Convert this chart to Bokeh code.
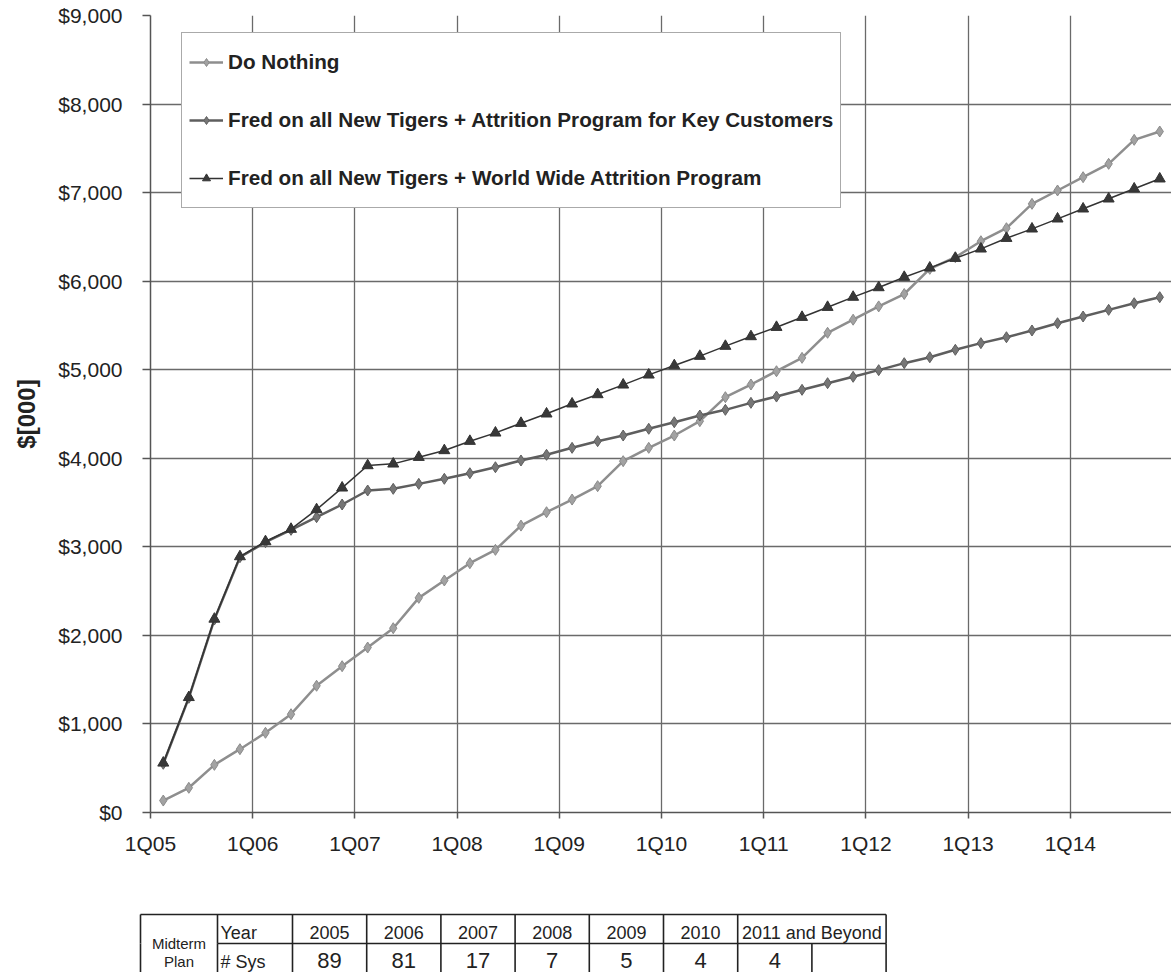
import numpy as np
from bokeh.plotting import figure
from bokeh.models import (Range1d, FixedTicker, NumeralTickFormatter, Legend,
                          LegendItem, ColumnDataSource)
from bokeh.embed import file_html
from bokeh.resources import INLINE
from bokeh.core.properties import value

# ---------------- data ----------------
quarters = [f"{q}Q{y:02d}" for y in range(5, 15) for q in range(1, 5)]

do_nothing = [135, 279, 538, 715, 900, 1110, 1431, 1652, 1863, 2081,
              2424, 2620, 2815, 2966, 3240, 3391, 3534, 3685, 3967, 4118,
              4257, 4419, 4690, 4833, 4983, 5134, 5417, 5565, 5715, 5855,
              6139, 6270, 6451, 6598, 6873, 7024, 7174, 7325, 7596, 7690]

key_customers = [550, 1295, 2179, 2883, 3052, 3192, 3335, 3478, 3636, 3655,
                 3711, 3768, 3831, 3899, 3975, 4039, 4118, 4193, 4257, 4333,
                 4407, 4483, 4547, 4626, 4697, 4773, 4848, 4920, 4995, 5074,
                 5141, 5225, 5300, 5367, 5443, 5525, 5601, 5676, 5751, 5819]

world_wide = [560, 1300, 2185, 2890, 3060, 3200, 3421, 3666, 3918, 3937,
              4012, 4088, 4193, 4287, 4396, 4502, 4615, 4720, 4829, 4942,
              5047, 5153, 5266, 5375, 5480, 5593, 5706, 5820, 5928, 6045,
              6150, 6259, 6365, 6485, 6591, 6704, 6817, 6930, 7043, 7156]

series_names = ["Do Nothing",
                "Fred on all New Tigers + Attrition Program for Key Customers",
                "Fred on all New Tigers + World Wide Attrition Program"]

y_ticks = [0, 1000, 2000, 3000, 4000, 5000, 6000, 7000, 8000, 9000]

table_years = ["2005", "2006", "2007", "2008", "2009", "2010", "2011 and Beyond"]
table_sys = ["89", "81", "17", "7", "5", "4", "4"]

FONT = "Liberation Sans"

# category centres
xs = np.arange(len(quarters)) + 0.5
tick_pos = [i for i, q in enumerate(quarters) if q.startswith("1Q")]
tick_lab = {i: quarters[i] for i in tick_pos}

src = ColumnDataSource(dict(x=xs, dn=do_nothing, kc=key_customers, ww=world_wide))

p = figure(width=1171, height=903, x_range=Range1d(0, 39.96), y_range=Range1d(0, 9000),
           output_backend="svg", toolbar_location=None,
           min_border_left=150, min_border_right=0, min_border_top=15, min_border_bottom=91)
p.outline_line_color = None
p.background_fill_color = "white"
p.border_fill_color = "white"

# axes
p.yaxis.ticker = FixedTicker(ticks=y_ticks)
p.yaxis.formatter = NumeralTickFormatter(format="$0,0")
p.yaxis.axis_label = "$[000]"
p.yaxis.axis_label_text_font = FONT
p.yaxis.axis_label_text_font_style = "bold"
p.yaxis.axis_label_text_font_size = "24px"
p.yaxis.axis_label_text_color = "#222222"
p.yaxis.axis_label_standoff = 15
p.yaxis.major_label_standoff = 20
p.yaxis.major_tick_out = 8
p.yaxis.major_tick_in = 0

p.xaxis.ticker = FixedTicker(ticks=tick_pos)
p.xaxis.major_label_overrides = tick_lab
p.xaxis.major_label_standoff = 13
p.xaxis.major_tick_out = 6
p.xaxis.major_tick_in = 0

for ax in (p.xaxis, p.yaxis):
    ax.minor_tick_line_color = None
    ax.major_label_text_font = FONT
    ax.major_label_text_font_size = "21px"
    ax.major_label_text_color = "#222222"
    ax.axis_line_color = "#555555"
    ax.axis_line_width = 1.5
    ax.major_tick_line_color = "#555555"
    ax.major_tick_line_width = 1.5

p.xgrid.ticker = FixedTicker(ticks=tick_pos)
p.ygrid.ticker = FixedTicker(ticks=y_ticks)
p.grid.grid_line_color = "#6a6a6a"
p.grid.grid_line_width = 1.3

# series
l1 = p.line('x', 'dn', source=src, line_color="#8e8e8e", line_width=2.5)
m1 = p.scatter('x', 'dn', source=src, marker="diamond", size=11,
               fill_color="#a2a2a2", line_color="#8a8a8a", line_width=1)
l2 = p.line('x', 'kc', source=src, line_color="#5e5e5e", line_width=2.5)
m2 = p.scatter('x', 'kc', source=src, marker="diamond", size=11,
               fill_color="#767676", line_color="#5e5e5e", line_width=1)
l3 = p.line('x', 'ww', source=src, line_color="#333333", line_width=1.5)
m3 = p.scatter('x', 'ww', source=src, marker="triangle", size=11,
               fill_color="#383838", line_color="#333333", line_width=1)

legend = Legend(items=[LegendItem(label=series_names[0], renderers=[l1, m1]),
                       LegendItem(label=series_names[1], renderers=[l2, m2]),
                       LegendItem(label=series_names[2], renderers=[l3, m3])],
                location=(31, 604))
legend.label_text_font = FONT
legend.label_text_font_style = "bold"
legend.label_text_font_size = "20.7px"
legend.label_text_color = "#222222"
legend.border_line_color = "#555555"
legend.border_line_width = 1.5
legend.background_fill_color = "white"
legend.background_fill_alpha = 1.0
legend.margin = 0
legend.padding = 7
legend.spacing = 14
legend.label_height = 44
legend.glyph_height = 20
legend.glyph_width = 34
legend.label_standoff = 5
p.add_layout(legend)

# ---------------- table ----------------
t = figure(width=1171, height=69, x_range=Range1d(0, 1171), y_range=Range1d(972, 903),
           output_backend="svg", toolbar_location=None, min_border=0,
           min_border_left=0, min_border_right=0, min_border_top=0, min_border_bottom=0,
           x_axis_location=None, y_axis_location=None)
t.grid.visible = False
t.outline_line_color = None
t.background_fill_color = "white"
t.border_fill_color = "white"

x_left, x_lab, x_first = 140, 217, 292
cw = 74.2
n_cols = len(table_years) + 1
edges = [x_first + cw * i for i in range(n_cols + 1)]
x_right = edges[-1]
y_top, y_mid, y_bot = 914, 943, 974

hx0, hx1, hy0, hy1 = [], [], [], []
hx0 += [x_left, x_lab, x_left]; hx1 += [x_right, x_right, x_right]
hy0 += [y_top, y_mid, y_bot]; hy1 += [y_top, y_mid, y_bot]
# vertical lines, header row (last year spans two columns)
for xe in [x_left, x_lab] + edges[:-2] + [x_right]:
    hx0.append(xe); hx1.append(xe); hy0.append(y_top); hy1.append(y_mid)
for xe in [x_left, x_lab] + edges:
    hx0.append(xe); hx1.append(xe); hy0.append(y_mid); hy1.append(y_bot)
t.segment(x0=hx0, y0=hy0, x1=hx1, y1=hy1, line_color="#222222", line_width=1.6)

centers = [(edges[i] + edges[i + 1]) / 2 for i in range(len(table_years) - 1)]
centers.append((edges[len(table_years) - 1] + edges[len(table_years) + 1]) / 2)
t.text(x=centers, y=[932] * len(centers), text=table_years, text_align="center",
       text_baseline="middle", text_font=value(FONT), text_font_size=value("18px"),
       text_color="#222222")
sys_centers = [(edges[i] + edges[i + 1]) / 2 for i in range(len(table_sys))]
t.text(x=sys_centers, y=[960] * len(sys_centers), text=table_sys, text_align="center",
       text_baseline="middle", text_font=value(FONT), text_font_size=value("22px"),
       text_color="#222222")
t.text(x=[x_lab + 3, x_lab + 3], y=[932, 961], text=["Year", "# Sys"], text_align="left",
       text_baseline="middle", text_font=value(FONT), text_font_size=value("18px"),
       text_color="#222222")
t.text(x=[(x_left + x_lab) / 2] * 2, y=[943, 961], text=["Midterm", "Plan"], text_align="center",
       text_baseline="middle", text_font=value(FONT), text_font_size=value("15px"),
       text_color="#222222")

open("out.html", "w").write(file_html([p, t], INLINE))
